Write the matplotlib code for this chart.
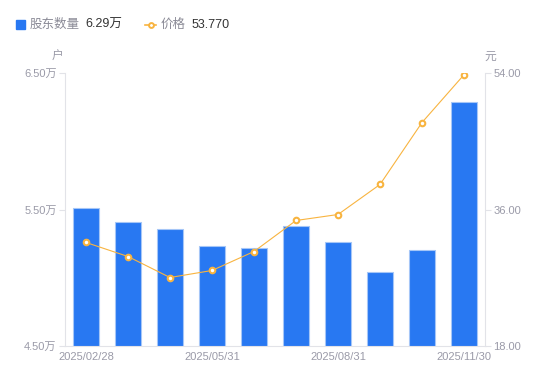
import matplotlib
matplotlib.use("Agg")
import matplotlib.pyplot as plt
from matplotlib.lines import Line2D

plt.rcParams['font.family'] = ['Liberation Sans', 'Noto Sans CJK SC', 'DejaVu Sans']

dates = ["2025/02/28", "2025/03/31", "2025/04/30", "2025/05/31", "2025/06/30",
         "2025/07/31", "2025/08/31", "2025/09/30", "2025/10/31", "2025/11/30"]
holders = [5.51, 5.41, 5.36, 5.23, 5.22, 5.38, 5.26, 5.04, 5.20, 6.29]  # 万户
price = [31.65, 29.8, 27.03, 27.96, 30.46, 34.55, 35.34, 39.3, 47.47, 53.77]
left_ticks = [4.5, 5.5, 6.5]
right_ticks = [18.0, 36.0, 54.0]
shown_ticks = [0, 3, 6, 9]

bar_color = "#2878F2"
bar_edge = "#A5C6F7"
line_color = "#F8B440"
tick_color = "#9A9AA8"
axis_color = "#E2E3E8"

fig = plt.figure(figsize=(5.5, 3.81), dpi=100)
ax = fig.add_axes([65/550, 35/381, 420/550, 273/381])
ax2 = ax.twinx()

x = list(range(len(dates)))
ax.bar(x, holders, width=0.6, color=bar_color, edgecolor=bar_edge, linewidth=0.8, zorder=2)
ax.set_ylim(4.5, 6.5)
ax.set_xlim(-0.5, len(dates) - 0.5)
ax.set_yticks(left_ticks)
ax.set_yticklabels([f"{v:.2f}万" for v in left_ticks])
ax.set_xticks(shown_ticks)
ax.set_xticklabels([dates[i] for i in shown_ticks])

ax2.plot(x, price, color=line_color, linewidth=0.8, marker='o', markersize=4,
         markerfacecolor='white', markeredgecolor=line_color, markeredgewidth=1.5, zorder=3)
ax2.set_ylim(18, 54)
ax2.set_yticks(right_ticks)
ax2.set_yticklabels([f"{v:.2f}" for v in right_ticks])

for a in (ax, ax2):
    for s in a.spines.values():
        s.set_visible(False)
ax.spines['left'].set_visible(True)
ax.spines['left'].set_color(axis_color)
ax.spines['bottom'].set_visible(True)
ax.spines['bottom'].set_color(axis_color)
ax2.spines['right'].set_visible(True)
ax2.spines['right'].set_color(axis_color)

ax.tick_params(axis='y', colors=axis_color, labelcolor=tick_color, labelsize=8, length=4, pad=2)
ax.tick_params(axis='x', length=0, labelcolor=tick_color, labelsize=8, pad=4)
ax2.tick_params(axis='y', colors=axis_color, labelcolor=tick_color, labelsize=8, length=4, pad=2)

fig.text(58/550, 1 - 57/381, "户", color=tick_color, fontsize=8.5, ha='center', va='center')
fig.text(490/550, 1 - 57/381, "元", color=tick_color, fontsize=8.5, ha='center', va='center')

# legend
fig.patches.append(plt.Rectangle((16/550, 1 - 29/381), 9/550, 9/381, transform=fig.transFigure,
                                 color=bar_color, figure=fig))
fig.text(30/550, 1 - 24.5/381, "股东数量", color="#8A8A96", fontsize=9, va='center')
fig.text(85/550, 1 - 24.5/381, f"{holders[-1]:.2f}万", color="#333333", fontsize=9, va='center')
fig.lines.append(Line2D([145/550, 156/550], [1 - 24.5/381, 1 - 24.5/381], transform=fig.transFigure,
                        color=line_color, linewidth=1.2))
fig.lines.append(Line2D([150.5/550], [1 - 24.5/381], transform=fig.transFigure,
                        linestyle='none', marker='o', markersize=3.5,
                        markerfacecolor='white', markeredgecolor=line_color, markeredgewidth=1.4))
fig.text(161/550, 1 - 24.5/381, "价格", color="#8A8A96", fontsize=9, va='center')
fig.text(192/550, 1 - 24.5/381, f"{price[-1]:.3f}", color="#333333", fontsize=9, va='center')

fig.savefig("out.png", dpi=100)
